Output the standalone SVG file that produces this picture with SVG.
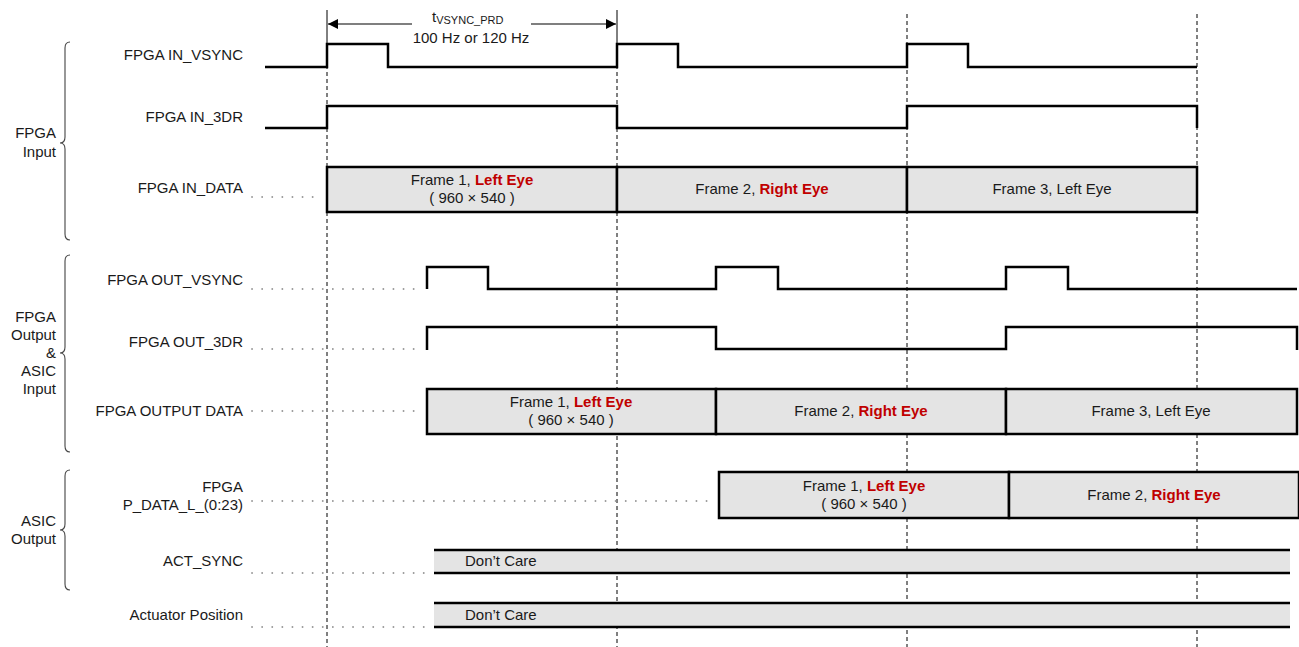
<svg xmlns="http://www.w3.org/2000/svg" width="1299" height="647" viewBox="0 0 1299 647">
<style>
text{font-family:"Liberation Sans",Arial,sans-serif;font-size:15px;fill:#1a1a1a}
.r{text-anchor:end}
.m{text-anchor:middle}
.red{fill:#c00000;font-weight:bold}
.sig{fill:none;stroke:#000;stroke-width:2.5;stroke-linejoin:miter}
.box{fill:#e4e4e4;stroke:#000;stroke-width:2.5}
.dash{stroke:#000;stroke-width:1;stroke-dasharray:4 3;fill:none}
.dot{stroke:#999;stroke-width:1.8;stroke-dasharray:0.1 10;stroke-linecap:round;fill:none}
.brace{fill:none;stroke:#444;stroke-width:1.1}
</style>
<defs>
<marker id="ah" viewBox="0 0 10 10" refX="10" refY="5" markerWidth="10" markerHeight="10" markerUnits="userSpaceOnUse" orient="auto">
<path d="M0,0 L10,5 L0,10 z" fill="#000"/>
</marker>
</defs>
<rect width="1299" height="647" fill="#fff"/>

<g id="gridlines">
<line x1="327" y1="10" x2="327" y2="44" stroke="#000" stroke-width="1"/>
<line x1="617" y1="10" x2="617" y2="44" stroke="#000" stroke-width="1"/>
<line class="dash" x1="327" y1="44" x2="327" y2="647"/>
<line class="dash" x1="617" y1="44" x2="617" y2="647"/>
<line class="dash" x1="907" y1="14" x2="907" y2="647"/>
<line class="dash" x1="1197" y1="14" x2="1197" y2="647"/>
</g>

<g id="period">
<line x1="412" y1="24" x2="328" y2="24" stroke="#000" stroke-width="1.2" marker-end="url(#ah)"/>
<line x1="531" y1="24" x2="616" y2="24" stroke="#000" stroke-width="1.2" marker-end="url(#ah)"/>
<text x="432" y="22">t<tspan font-size="11" dy="2">VSYNC_PRD</tspan></text>
<text class="m" x="471" y="43">100 Hz or 120 Hz</text>
</g>

<g id="groups">
<path class="brace" d="M70,42 Q65,42 65,48 L65,137 Q65,143 60,143 Q65,143 65,149 L65,234 Q65,240 70,240"/>
<text class="r" x="56" y="138">FPGA</text>
<text class="r" x="56" y="157">Input</text>
<path class="brace" d="M70,255 Q65,255 65,261 L65,347 Q65,353 60,353 Q65,353 65,359 L65,446 Q65,452 70,452"/>
<text class="r" x="56" y="322">FPGA</text>
<text class="r" x="56" y="340">Output</text>
<text class="r" x="56" y="358">&amp;</text>
<text class="r" x="56" y="376">ASIC</text>
<text class="r" x="56" y="394">Input</text>
<path class="brace" d="M70,470 Q65,470 65,476 L65,524 Q65,530 60,530 Q65,530 65,536 L65,584 Q65,590 70,590"/>
<text class="r" x="56" y="526">ASIC</text>
<text class="r" x="56" y="544">Output</text>
</g>

<g id="in_vsync">
<text class="r" x="243" y="60">FPGA IN_VSYNC</text>
<path class="sig" d="M265,67 H327 V44 H388 V67 H617 V44 H678 V67 H907 V44 H968 V67 H1197"/>
</g>
<g id="in_3dr">
<text class="r" x="243" y="122">FPGA IN_3DR</text>
<path class="sig" d="M265,128 H327 V106 H617 V128 H907 V106 H1197 V128"/>
</g>
<g id="in_data">
<text class="r" x="243" y="193">FPGA IN_DATA</text>
<line class="dot" x1="252" y1="197" x2="322" y2="197"/>
<rect class="box" x="327" y="167" width="290" height="45"/>
<rect class="box" x="617" y="167" width="290" height="45"/>
<rect class="box" x="907" y="167" width="290" height="45"/>
<text class="m" x="472" y="185">Frame 1, <tspan class="red">Left Eye</tspan></text>
<text class="m" x="472" y="203">( 960 × 540 )</text>
<text class="m" x="762" y="194">Frame 2, <tspan class="red">Right Eye</tspan></text>
<text class="m" x="1052" y="194">Frame 3, Left Eye</text>
</g>

<g id="out_vsync">
<text class="r" x="243" y="285">FPGA OUT_VSYNC</text>
<line class="dot" x1="252" y1="289" x2="422" y2="289"/>
<path class="sig" d="M427,289 V267 H488 V289 H716 V267 H778 V289 H1006 V267 H1068 V289 H1297"/>
</g>
<g id="out_3dr">
<text class="r" x="243" y="347">FPGA OUT_3DR</text>
<line class="dot" x1="252" y1="349" x2="422" y2="349"/>
<path class="sig" d="M427,350 V327 H716 V349 H1006 V327 H1297 V350"/>
</g>
<g id="out_data">
<text class="r" x="243" y="416">FPGA OUTPUT DATA</text>
<line class="dot" x1="252" y1="411" x2="422" y2="411"/>
<rect class="box" x="427" y="389" width="289" height="45"/>
<rect class="box" x="716" y="389" width="290" height="45"/>
<rect class="box" x="1006" y="389" width="291" height="45"/>
<text class="m" x="571" y="407">Frame 1, <tspan class="red">Left Eye</tspan></text>
<text class="m" x="571" y="425">( 960 × 540 )</text>
<text class="m" x="861" y="416">Frame 2, <tspan class="red">Right Eye</tspan></text>
<text class="m" x="1151" y="416">Frame 3, Left Eye</text>
</g>

<g id="p_data">
<text class="r" x="243" y="492">FPGA</text>
<text class="r" x="243" y="510">P_DATA_L_(0:23)</text>
<line class="dot" x1="252" y1="501" x2="712" y2="501"/>
<rect class="box" x="719" y="472" width="290" height="46"/>
<rect class="box" x="1009" y="472" width="290" height="46"/>
<text class="m" x="864" y="491">Frame 1, <tspan class="red">Left Eye</tspan></text>
<text class="m" x="864" y="509">( 960 × 540 )</text>
<text class="m" x="1154" y="500">Frame 2, <tspan class="red">Right Eye</tspan></text>
</g>

<g id="act_sync">
<text class="r" x="243" y="566">ACT_SYNC</text>
<line class="dot" x1="252" y1="573" x2="430" y2="573"/>
<rect x="434" y="550" width="856" height="23" fill="#e4e4e4"/>
<line x1="434" y1="550" x2="1290" y2="550" stroke="#000" stroke-width="2.5"/>
<line x1="434" y1="573" x2="1290" y2="573" stroke="#000" stroke-width="2.5"/>
<text x="465" y="566">Don’t Care</text>
</g>
<g id="actuator">
<text class="r" x="243" y="620">Actuator Position</text>
<line class="dot" x1="252" y1="627" x2="430" y2="627"/>
<rect x="434" y="603" width="856" height="24" fill="#e4e4e4"/>
<line x1="434" y1="603" x2="1290" y2="603" stroke="#000" stroke-width="2.5"/>
<line x1="434" y1="627" x2="1290" y2="627" stroke="#000" stroke-width="2.5"/>
<text x="465" y="620">Don’t Care</text>
</g>
</svg>
